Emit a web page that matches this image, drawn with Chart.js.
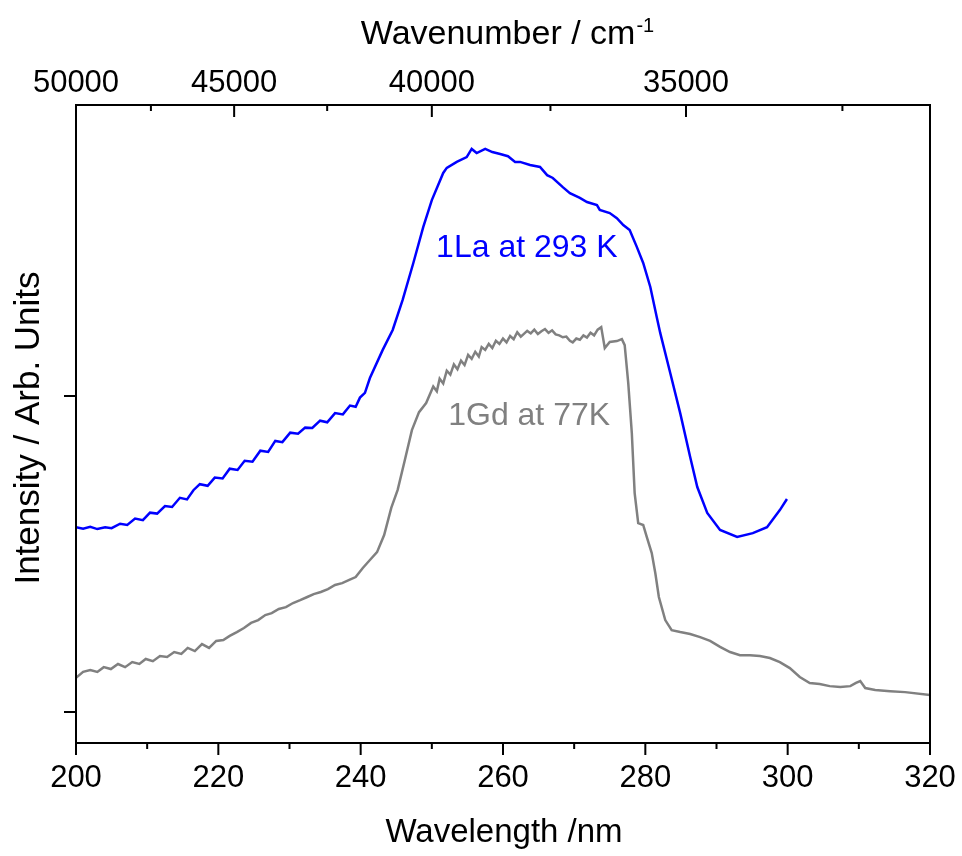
<!DOCTYPE html>
<html lang="en">
<head>
<meta charset="utf-8">
<script src="https://cdn.jsdelivr.net/npm/chart.js@4.4.1/dist/chart.umd.min.js"></script>
<style>
  body { margin: 0; background: #fff; }
  #spec { display: block; }
</style>
</head>
<body>
<canvas id="spec" width="962" height="856"></canvas>
<script>
// wavelength (nm) / intensity (arb. units)
const laWavelength = [200.0, 201.0, 202.0, 203.0, 204.1, 205.0, 206.2, 207.2, 208.3, 209.4, 210.4, 211.4, 212.5, 213.5, 214.6, 215.6, 216.5, 217.4, 218.5, 219.5, 220.6, 221.6, 222.7, 223.7, 224.8, 225.9, 227.0, 228.0, 229.0, 230.1, 231.2, 232.2, 233.2, 234.3, 235.3, 236.4, 237.5, 238.5, 239.3, 239.9, 240.6, 241.3, 243.1, 244.5, 245.9, 247.4, 248.8, 250.0, 251.6, 252.1, 253.5, 254.9, 255.6, 256.3, 257.5, 258.5, 259.6, 260.7, 261.7, 262.4, 263.8, 265.2, 266.2, 267.0, 268.4, 269.4, 270.8, 271.8, 273.2, 273.6, 275.0, 276.0, 276.9, 277.8, 278.8, 279.7, 280.7, 281.6, 282.1, 283.5, 284.9, 286.3, 287.3, 288.7, 290.5, 292.9, 295.1, 297.1, 298.9, 299.9];
const laIntensity = [0.585, 0.580, 0.586, 0.579, 0.585, 0.582, 0.596, 0.592, 0.612, 0.607, 0.631, 0.628, 0.652, 0.649, 0.678, 0.673, 0.702, 0.721, 0.716, 0.742, 0.739, 0.770, 0.766, 0.795, 0.792, 0.827, 0.823, 0.858, 0.854, 0.884, 0.881, 0.900, 0.899, 0.922, 0.917, 0.946, 0.942, 0.970, 0.966, 0.995, 1.010, 1.057, 1.146, 1.209, 1.304, 1.421, 1.535, 1.620, 1.706, 1.722, 1.741, 1.756, 1.782, 1.769, 1.782, 1.772, 1.766, 1.759, 1.741, 1.741, 1.731, 1.725, 1.699, 1.690, 1.661, 1.642, 1.627, 1.614, 1.604, 1.589, 1.579, 1.563, 1.541, 1.525, 1.472, 1.421, 1.345, 1.250, 1.199, 1.073, 0.946, 0.807, 0.712, 0.630, 0.576, 0.554, 0.566, 0.585, 0.639, 0.674];

const gdWavelength = [200.0, 201.0, 202.0, 203.0, 203.9, 204.9, 205.9, 206.9, 207.9, 208.9, 209.8, 210.8, 211.8, 212.8, 213.8, 214.8, 215.7, 216.7, 217.7, 218.7, 219.7, 220.7, 221.6, 222.6, 223.6, 224.6, 225.6, 226.6, 227.5, 228.5, 229.5, 230.5, 231.5, 232.5, 233.4, 234.4, 235.4, 236.4, 237.4, 238.4, 239.3, 240.3, 241.3, 242.3, 243.3, 244.3, 245.2, 246.2, 247.2, 248.2, 249.2, 250.2, 250.7, 251.1, 251.6, 252.1, 252.6, 253.1, 253.6, 254.1, 254.6, 255.1, 255.6, 256.1, 256.6, 257.0, 257.5, 258.0, 258.5, 259.0, 259.5, 260.0, 260.5, 261.0, 261.5, 262.0, 262.5, 262.9, 263.4, 263.9, 264.4, 264.9, 265.4, 265.9, 266.4, 266.9, 267.4, 267.9, 268.4, 268.9, 269.4, 269.8, 270.3, 270.8, 271.3, 271.8, 272.3, 272.8, 273.3, 273.8, 274.3, 275.0, 276.0, 276.7, 277.1, 277.6, 278.1, 278.5, 279.0, 279.7, 280.2, 280.9, 281.4, 281.9, 282.8, 283.7, 284.9, 286.3, 287.7, 289.1, 290.5, 291.9, 293.3, 294.7, 296.1, 297.5, 298.9, 300.3, 301.7, 303.1, 304.5, 305.9, 307.4, 308.8, 309.6, 310.2, 310.9, 312.3, 314.4, 316.5, 320.0];
const gdIntensity = [0.108, 0.127, 0.133, 0.127, 0.142, 0.136, 0.152, 0.142, 0.158, 0.152, 0.168, 0.161, 0.177, 0.174, 0.190, 0.184, 0.203, 0.193, 0.215, 0.203, 0.225, 0.228, 0.241, 0.253, 0.266, 0.282, 0.291, 0.307, 0.313, 0.326, 0.332, 0.345, 0.354, 0.364, 0.373, 0.380, 0.389, 0.402, 0.408, 0.418, 0.427, 0.456, 0.481, 0.506, 0.560, 0.646, 0.703, 0.797, 0.892, 0.949, 0.978, 1.030, 1.015, 1.055, 1.040, 1.080, 1.068, 1.100, 1.085, 1.112, 1.098, 1.130, 1.118, 1.140, 1.125, 1.155, 1.146, 1.165, 1.152, 1.175, 1.165, 1.182, 1.170, 1.190, 1.180, 1.202, 1.188, 1.196, 1.206, 1.198, 1.210, 1.196, 1.205, 1.212, 1.200, 1.208, 1.195, 1.192, 1.186, 1.188, 1.175, 1.170, 1.182, 1.178, 1.192, 1.185, 1.200, 1.192, 1.210, 1.218, 1.152, 1.171, 1.174, 1.180, 1.161, 1.041, 0.883, 0.693, 0.598, 0.592, 0.554, 0.503, 0.440, 0.364, 0.291, 0.259, 0.253, 0.247, 0.237, 0.225, 0.206, 0.190, 0.180, 0.180, 0.177, 0.171, 0.158, 0.139, 0.111, 0.092, 0.089, 0.082, 0.079, 0.082, 0.092, 0.098, 0.076, 0.070, 0.066, 0.063, 0.054];

// axis ticks
const wavelengthMajor = [200, 220, 240, 260, 280, 300, 320];
const wavelengthMinor = [210, 230, 250, 270, 290, 310];
const wavenumberMajor = [50000, 45000, 40000, 35000];
const wavenumberMinor = [47500, 42500, 37500, 32500];
const intensityTicks = [0, 1];

const FONT = '"Liberation Sans", Arial, sans-serif';
const toNm = wn => 1e7 / wn;
const pairs = (xs, ys) => xs.map((x, i) => ({ x: x, y: ys[i] }));

// frame, tick marks, axis titles and curve labels
const decor = {
  id: 'decor',
  afterDraw(chart) {
    const c = chart.ctx;
    const a = chart.chartArea;
    const x = chart.scales.x, y = chart.scales.y;
    c.save();
    c.strokeStyle = '#000';
    c.lineWidth = 2;
    c.strokeRect(a.left, a.top, a.right - a.left, a.bottom - a.top);

    c.beginPath();
    wavelengthMajor.forEach(v => { const p = x.getPixelForValue(v); c.moveTo(p, a.bottom); c.lineTo(p, a.bottom + 12); });
    wavelengthMinor.forEach(v => { const p = x.getPixelForValue(v); c.moveTo(p, a.bottom); c.lineTo(p, a.bottom + 6); });
    wavenumberMajor.forEach(v => { const p = x.getPixelForValue(toNm(v)); c.moveTo(p, a.top); c.lineTo(p, a.top + 12); });
    wavenumberMinor.forEach(v => { const p = x.getPixelForValue(toNm(v)); c.moveTo(p, a.top); c.lineTo(p, a.top + 6); });
    intensityTicks.forEach(v => { const p = y.getPixelForValue(v); c.moveTo(a.left, p); c.lineTo(a.left - 12, p); });
    c.stroke();

    c.fillStyle = '#000';
    c.textBaseline = 'alphabetic';
    c.font = '33px ' + FONT;
    c.textAlign = 'center';
    const mid = (a.left + a.right) / 2;
    c.fillText('Wavelength /nm', mid + 1, 842);

    // top title with superscript
    const main = 'Wavenumber / cm';
    c.textAlign = 'left';
    c.font = '34px ' + FONT;
    const w1 = c.measureText(main).width;
    c.font = '20px ' + FONT;
    const w2 = c.measureText('-1').width;
    const start = mid + 4 - (w1 + w2) / 2;
    c.font = '34px ' + FONT;
    c.fillText(main, start, 44);
    c.font = '20px ' + FONT;
    c.fillText('-1', start + w1 + 1, 32);

    c.save();
    c.font = '35px ' + FONT;
    c.translate(39, (a.top + a.bottom) / 2 + 4);
    c.rotate(-Math.PI / 2);
    c.textAlign = 'center';
    c.fillText('Intensity / Arb. Units', 0, 0);
    c.restore();

    c.font = '32px ' + FONT;
    c.textAlign = 'left';
    c.fillStyle = '#0000ff';
    c.fillText('1La at 293 K', x.getPixelForValue(250.6), y.getPixelForValue(1.44));
    c.fillStyle = '#808080';
    c.fillText('1Gd at 77K', x.getPixelForValue(252.3), y.getPixelForValue(0.908));
    c.restore();
  }
};

const ctx = document.getElementById('spec');
const spectrumChart = new Chart(ctx, {
  type: 'line',
  data: {
    datasets: [
      {
        label: '1Gd at 77K',
        data: pairs(gdWavelength, gdIntensity),
        borderColor: '#808080',
        borderWidth: 2.5,
        pointRadius: 0,
        tension: 0
      },
      {
        label: '1La at 293 K',
        data: pairs(laWavelength, laIntensity),
        borderColor: '#0000ff',
        borderWidth: 2.5,
        pointRadius: 0,
        tension: 0
      }
    ]
  },
  options: {
    responsive: false,
    animation: false,
    layout: { padding: { left: 0, right: 32, top: 0, bottom: 0 } },
    plugins: { legend: { display: false }, tooltip: { enabled: false } },
    scales: {
      x: {
        type: 'linear',
        position: 'bottom',
        min: 200,
        max: 320,
        afterBuildTicks: s => { s.ticks = wavelengthMajor.map(v => ({ value: v })); },
        afterFit: s => { s.height = 113; s.paddingLeft = 0; s.paddingRight = 0; },
        grid: { display: false, drawTicks: false },
        border: { display: false },
        ticks: { autoSkip: false, maxRotation: 0, padding: 17, color: '#000', font: { family: FONT, size: 31 } }
      },
      x2: {
        type: 'linear',
        axis: 'x',
        position: 'top',
        min: 200,
        max: 320,
        afterBuildTicks: s => { s.ticks = wavenumberMajor.map(v => ({ value: toNm(v) })); },
        afterFit: s => { s.height = 105; s.paddingLeft = 0; s.paddingRight = 0; },
        grid: { display: false, drawTicks: false },
        border: { display: false },
        ticks: {
          autoSkip: false, maxRotation: 0, padding: 3, color: '#000',
          font: { family: FONT, size: 31 },
          callback: (val) => String(Math.round(1e7 / val / 100) * 100)
        }
      },
      y: {
        type: 'linear',
        min: -0.098,
        max: 1.921,
        afterFit: s => { s.width = 76; s.paddingTop = 0; s.paddingBottom = 0; },
        grid: { display: false, drawTicks: false },
        border: { display: false },
        ticks: { display: false }
      }
    }
  },
  plugins: [decor]
});
</script>
</body>
</html>
